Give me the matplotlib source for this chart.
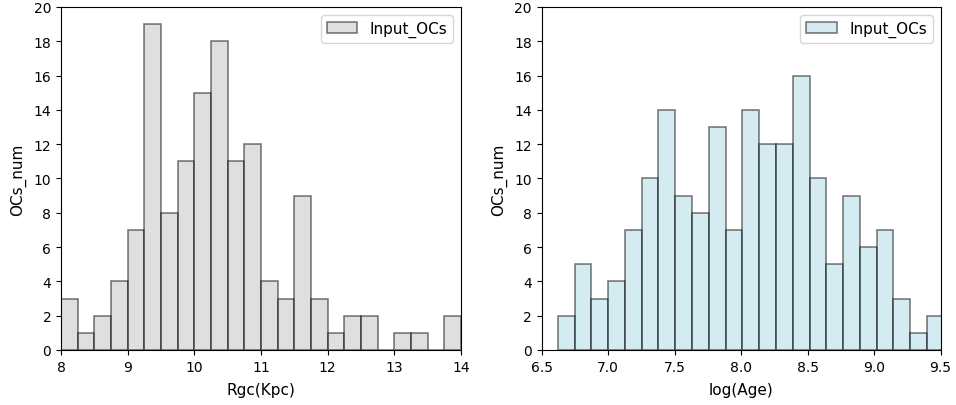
import numpy as np
import matplotlib
matplotlib.use("Agg")
import matplotlib.pyplot as plt

# Galactocentric radius histogram (bins of 0.25 kpc from 8 to 14)
rgc_edges = np.linspace(8.0, 14.0, 25)
rgc_counts = [3, 1, 2, 4, 7, 19, 8, 11, 15, 18, 11, 12,
              4, 3, 9, 3, 1, 2, 2, 0, 1, 1, 0, 2]

# log(Age) histogram (23 bins spanning the data range)
age_edges = np.linspace(6.621, 9.525, 24)
age_counts = [2, 5, 3, 4, 7, 10, 14, 9, 8, 13, 7, 14,
              12, 12, 16, 10, 5, 9, 6, 7, 3, 1, 2]

fig = plt.figure(figsize=(9.56, 4.06), dpi=100)
ax1 = fig.add_axes([0.0638, 0.1355, 0.4184, 0.8448])
ax2 = fig.add_axes([0.5666, 0.1355, 0.4172, 0.8448])


def draw_hist(ax, edges, counts, color):
    centers = 0.5 * (edges[:-1] + edges[1:])
    ax.hist(centers, bins=edges, weights=counts, color=color,
            edgecolor="black", alpha=0.5, linewidth=1.2, label="Input_OCs")
    ax.set_ylim(0, 20)
    ax.set_yticks(range(0, 21, 2))
    ax.set_ylabel("OCs_num", fontsize=11, labelpad=5)
    ax.legend(loc="upper right", fontsize=11)


draw_hist(ax1, rgc_edges, rgc_counts, "silver")
ax1.set_xlim(8, 14)
ax1.set_xticks(range(8, 15))
ax1.set_xlabel("Rgc(Kpc)", fontsize=11, labelpad=6)

draw_hist(ax2, age_edges, age_counts, "lightblue")
ax2.set_xlim(6.5, 9.5)
ax2.set_xticks(np.arange(6.5, 9.51, 0.5))
ax2.set_xlabel("log(Age)", fontsize=11, labelpad=6)

fig.savefig("out.png", dpi=100)
